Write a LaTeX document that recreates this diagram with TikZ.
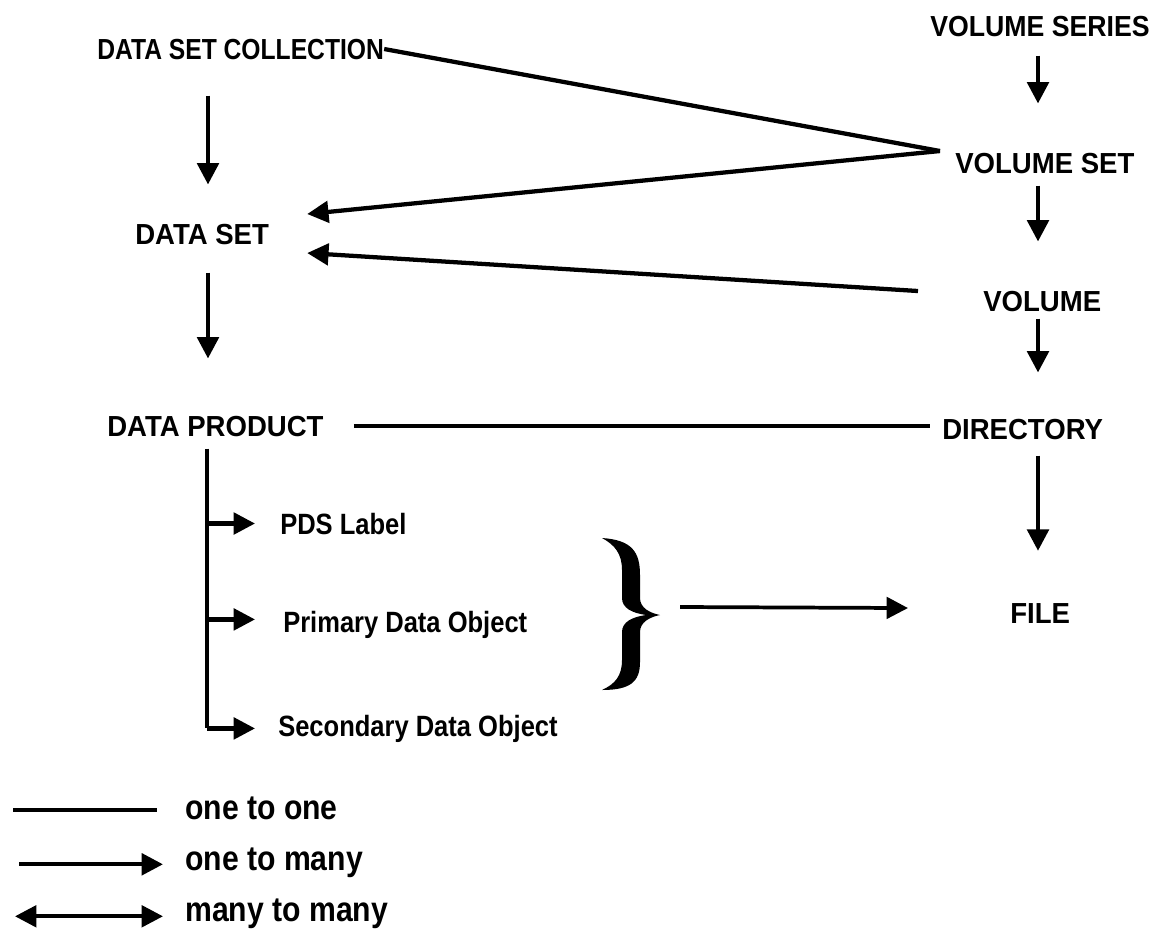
\documentclass[tikz,border=0pt]{standalone}
\usepackage{fontspec}
\newfontfamily\labA[FakeStretch=0.95]{Liberation Sans Bold}
\newfontfamily\labB[FakeStretch=0.92]{Liberation Sans Bold}
\newfontfamily\labC[FakeStretch=0.85]{Liberation Sans Bold}
\newfontfamily\labD[FakeStretch=0.87]{Liberation Sans Bold}
\usetikzlibrary{arrows.meta,calc}
\tikzset{
  caps/.style={inner sep=0pt, anchor=base west, font=\labA\fontsize{21.75pt}{26pt}\selectfont},
  capsb/.style={inner sep=0pt, anchor=base west, font=\labB\fontsize{21.75pt}{26pt}\selectfont},
  capsn/.style={inner sep=0pt, anchor=base west, font=\labC\fontsize{21.75pt}{26pt}\selectfont},
  small/.style={inner sep=0pt, anchor=base west, font=\labD\fontsize{22pt}{27pt}\selectfont},
  legtext/.style={inner sep=0pt, anchor=base west, font=\labD\fontsize{26pt}{30pt}\selectfont},
  oneone/.style={line width=3.2pt},
  onemany/.style={line width=3.2pt, -{Triangle[length=16pt,width=16pt]}},
  manymany/.style={line width=3pt, {Triangle[length=16pt,width=16pt]}-{Triangle[length=16pt,width=16pt]}},
  thinmany/.style={line width=2.8pt, -{Triangle[length=16pt,width=16pt]}},
}
\begin{document}
\begin{tikzpicture}[x=0.75pt,y=-0.75pt]
\useasboundingbox (0,0) rectangle (1159,932);
% nodes
\node[capsn] (dsc) at (97,59) {DATA SET COLLECTION};
\node[capsb] (vs) at (930,36) {VOLUME SERIES};
\node[caps] (vset) at (955,173) {VOLUME SET};
\node[caps] (vol) at (983,311) {VOLUME};
\node[caps] (dir) at (942,439) {DIRECTORY};
\node[caps] (file) at (1010,623) {FILE};
\node[caps] (ds) at (135,244) {DATA SET};
\node[caps] (dp) at (107,436) {DATA PRODUCT};
\node[small] (pds) at (280,534) {PDS Label};
\node[small] (pdo) at (283,632) {Primary Data Object};
\node[small] (sdo) at (278,736) {Secondary Data Object};
% right column arrows
\coordinate (ax) at (1038,0);
\draw[onemany] ($(vs.south -| ax)+(0,19)$) -- ($(vset.north -| ax)+(0,-49)$);
\draw[onemany] ($(vset.south -| ax)+(0,12)$) -- ($(vol.north -| ax)+(0,-49)$);
\draw[onemany] ($(vol.south -| ax)+(0,7)$) -- ($(dir.north -| ax)+(0,-46)$);
\draw[onemany] ($(dir.south -| ax)+(0,16)$) -- ($(file.north -| ax)+(0,-52)$);
% left column arrows
\coordinate (lx) at (208,0);
\draw[onemany] ($(dsc.south -| lx)+(0,36)$) -- ($(ds.north -| lx)+(0,-39)$);
\draw[onemany] ($(ds.south -| lx)+(0,28)$) -- ($(dp.north -| lx)+(0,-57)$);
% fan from volume set / volume
\coordinate (apex) at ($(vset.west)+(-15,-12)$);
\coordinate (dsin1) at ($(ds.east)+(38,-20)$);
\coordinate (dsin2) at ($(ds.east)+(38,19)$);
\coordinate (volout) at ($(vol.west)+(-65,-10)$);
\draw[oneone] (dsc.east) -- (apex);
\draw[onemany] (apex) -- (dsin1);
\draw[onemany] (volout) -- (dsin2);
% one to one data product - directory
\draw[oneone] ($(dp.east)+(30,0)$) -- ($(dir.west |- dp.east)+(-12,0)$);
% data product tree
\coordinate (tx) at (207,0);
\draw[oneone] ($(dp.south -| tx)+(0,12)$) -- (tx |- sdo.west);
\draw[onemany] (tx |- sdo.west) -- ($(sdo.west)+(-23,0)$);
\draw[onemany] (tx |- pds.west) -- ($(pds.west)+(-25,0)$);
\draw[onemany] ($(tx |- pdo.west)+(0,-5)$) -- ($(pdo.west)+(-28,-5)$);
% brace
\fill (602,538) .. controls (632,540) and (640,552) .. (640,575) -- (640,598)
  .. controls (640,608) and (650,613) .. (660,615)
  .. controls (650,617) and (640,622) .. (640,632) -- (640,662)
  .. controls (640,682) and (630,690) .. (602,690)
  .. controls (615,684) and (622,676) .. (622,660) -- (622,632)
  .. controls (622,622) and (632,617) .. (646,615)
  .. controls (632,613) and (622,608) .. (622,598) -- (622,570)
  .. controls (622,554) and (615,545) .. (602,538) -- cycle;
\coordinate (bracetip) at (680,607);
\draw[thinmany] (bracetip) -- ($(file.west)+(-102,-5)$);
% legend
\node[legtext] (l1) at (185,819) {one to one};
\node[legtext] (l2) at (185,870) {one to many};
\node[legtext] (l3) at (185,921) {many to many};
\draw[oneone] ($(l1.west)+(-172,2)$) -- ($(l1.west)+(-28,2)$);
\draw[onemany] ($(l2.west)+(-166,2)$) -- ($(l2.west)+(-22,2)$);
\draw[manymany] ($(l3.west)+(-170,3)$) -- ($(l3.west)+(-22,3)$);
\end{tikzpicture}
\end{document}
